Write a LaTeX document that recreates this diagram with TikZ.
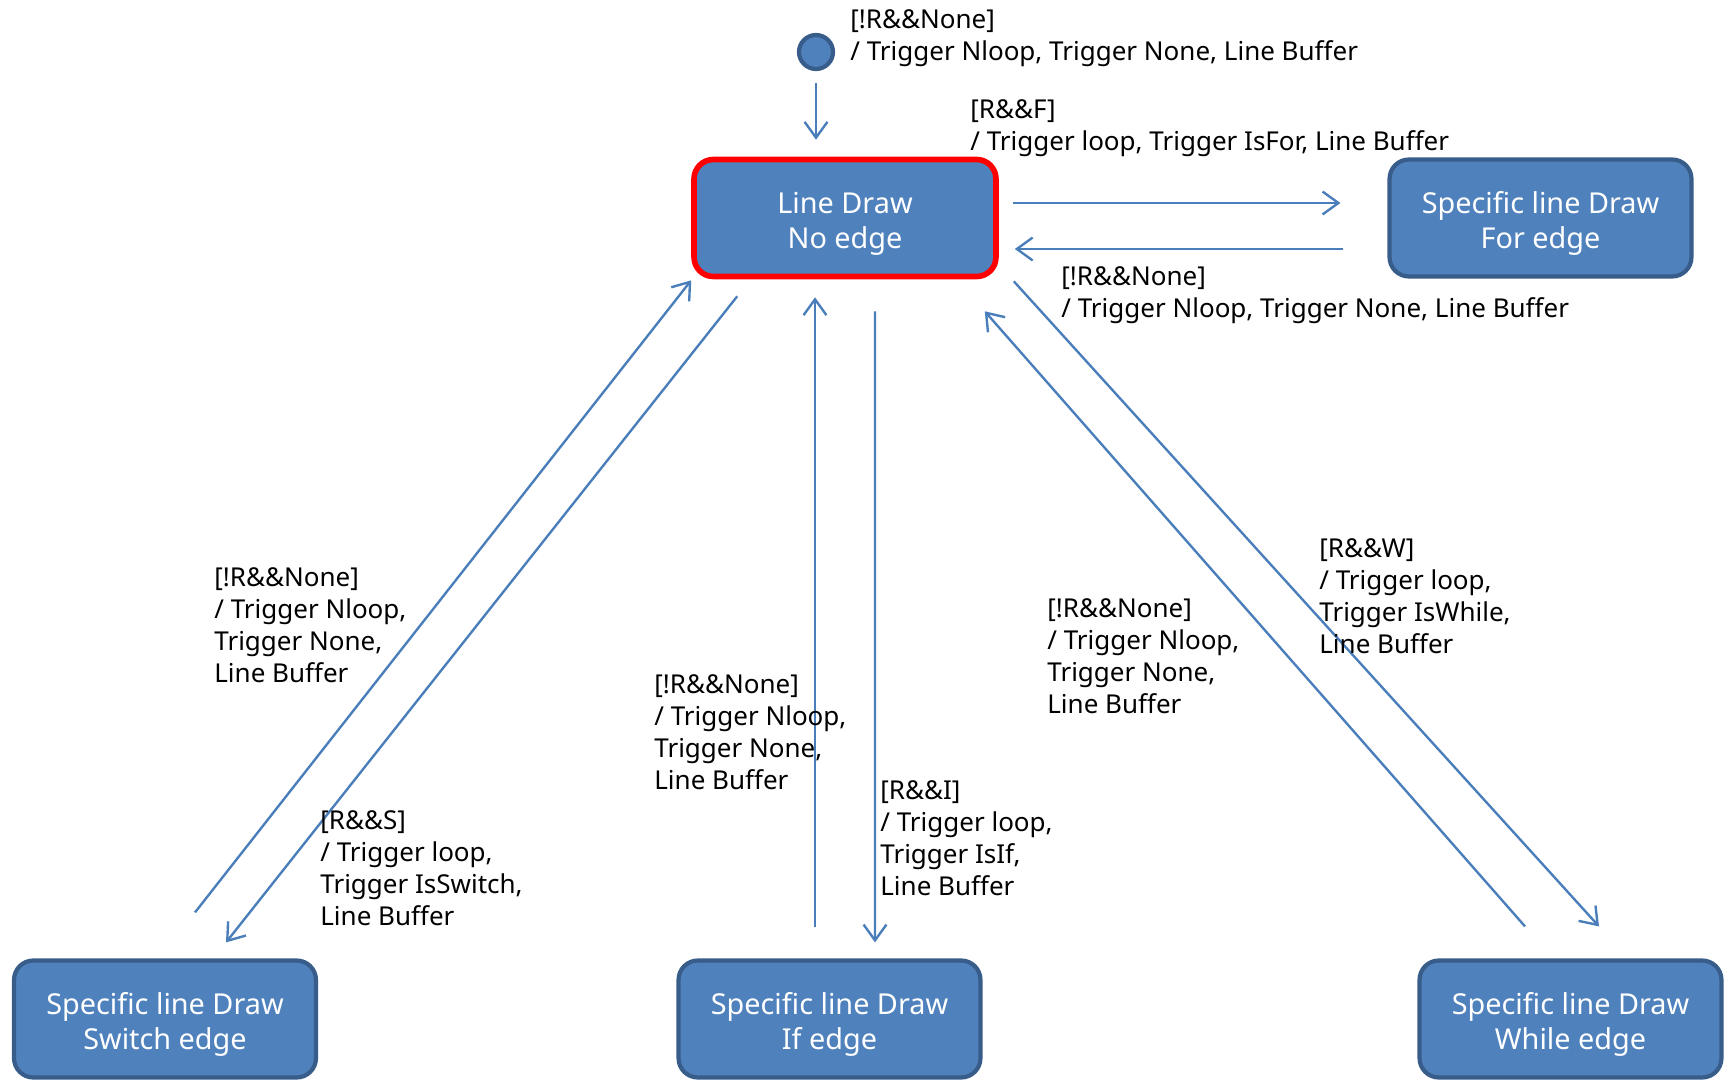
\documentclass[tikz,border=0pt]{standalone}
\usepackage{fontspec}
\setmainfont{Noto Sans}
\usetikzlibrary{arrows.meta,calc}

\definecolor{statefill}{HTML}{4F81BD}
\definecolor{stateline}{HTML}{385D8A}
\definecolor{arrowblue}{HTML}{4A7EBB}
\newcommand{\lblfont}{\fontsize{14.8}{18.2}\selectfont}
\newcommand{\boxfont}{\fontsize{16.4}{20}\selectfont}
\newcommand{\boxtop}{\rule{0pt}{18.5pt}}

\begin{document}
\begin{tikzpicture}[x=0.02cm, y=-0.02cm,
  state/.style={draw=stateline, fill=statefill, line width=2.4pt, rounded corners=11pt,
    minimum width=6.04cm, minimum height=2.34cm, text=white, align=center, font=\boxfont},
  trans/.style={draw=arrowblue, line width=1.35pt, -{Straight Barb[length=9pt,width=13pt]}},
  guard/.style={anchor=north west, align=left, inner sep=0pt, font=\lblfont}]

\useasboundingbox (0,0) rectangle (1731,1081);

% states
\node[state, draw=red, line width=3.2pt] (lineDraw) at (845,218) {\boxtop Line Draw\\No edge};
\node[state] (forDraw) at (1540.5,218) {\boxtop Specific line Draw\\For edge};
\node[state] (switchDraw) at (165,1019) {\boxtop Specific line Draw\\Switch edge};
\node[state] (ifDraw) at (829.5,1019) {\boxtop Specific line Draw\\If edge};
\node[state] (whileDraw) at (1570.5,1019) {\boxtop Specific line Draw\\While edge};
\node[circle, fill=statefill, draw=stateline, line width=2.4pt, minimum size=0.68cm, inner sep=0pt] (init) at (816,52) {};

% transitions
\draw[trans] ([shift={(0,12)}]init.south) -- ([shift={(-29,-17)}]lineDraw.north);
\draw[trans] ([shift={(14,-15)}]lineDraw.east) -- ([shift={(-47,-15)}]forDraw.west);
\draw[trans] ([shift={(-44,31)}]forDraw.west) -- ([shift={(16,31)}]lineDraw.east);
\draw[trans] ([shift={(30,-46)}]switchDraw.north) -- ([shift={(0,1)}]lineDraw.south west);
\draw[trans] ([shift={(46,17)}]lineDraw.south west) -- ([shift={(61,-16)}]switchDraw.north);
\draw[trans] ([shift={(-14.5,-31)}]ifDraw.north) -- ([shift={(-30,18)}]lineDraw.south);
\draw[trans] ([shift={(30,32)}]lineDraw.south) -- ([shift={(45.5,-16)}]ifDraw.north);
\draw[trans] ([shift={(-45.5,-32)}]whileDraw.north) -- ([shift={(-14,32)}]lineDraw.south east);
\draw[trans] ([shift={(15,2)}]lineDraw.south east) -- ([shift={(28.5,-32)}]whileDraw.north);

% guards
\node[guard] (lblInit) at (850,9) {[!R\&\&None]\\/ Trigger Nloop, Trigger None, Line Buffer};
\node[guard] (lblFor) at (970,99) {[R\&\&F]\\/ Trigger loop, Trigger IsFor, Line Buffer};
\node[guard] (lblForBack) at (1061,266) {[!R\&\&None]\\/ Trigger Nloop, Trigger None, Line Buffer};
\node[guard] (lblSwitchBack) at (214,567) {[!R\&\&None]\\/ Trigger Nloop,\\Trigger None,\\Line Buffer};
\node[guard] (lblSwitch) at (320,810) {[R\&\&S]\\/ Trigger loop,\\Trigger IsSwitch,\\Line Buffer};
\node[guard] (lblIfBack) at (654,674) {[!R\&\&None]\\/ Trigger Nloop,\\Trigger None,\\Line Buffer};
\node[guard] (lblIf) at (880,780) {[R\&\&I]\\/ Trigger loop,\\Trigger IsIf,\\Line Buffer};
\node[guard] (lblWhileBack) at (1047,598) {[!R\&\&None]\\/ Trigger Nloop,\\Trigger None,\\Line Buffer};
\node[guard] (lblWhile) at (1319,538) {[R\&\&W]\\/ Trigger loop,\\Trigger IsWhile,\\Line Buffer};

\end{tikzpicture}
\end{document}
